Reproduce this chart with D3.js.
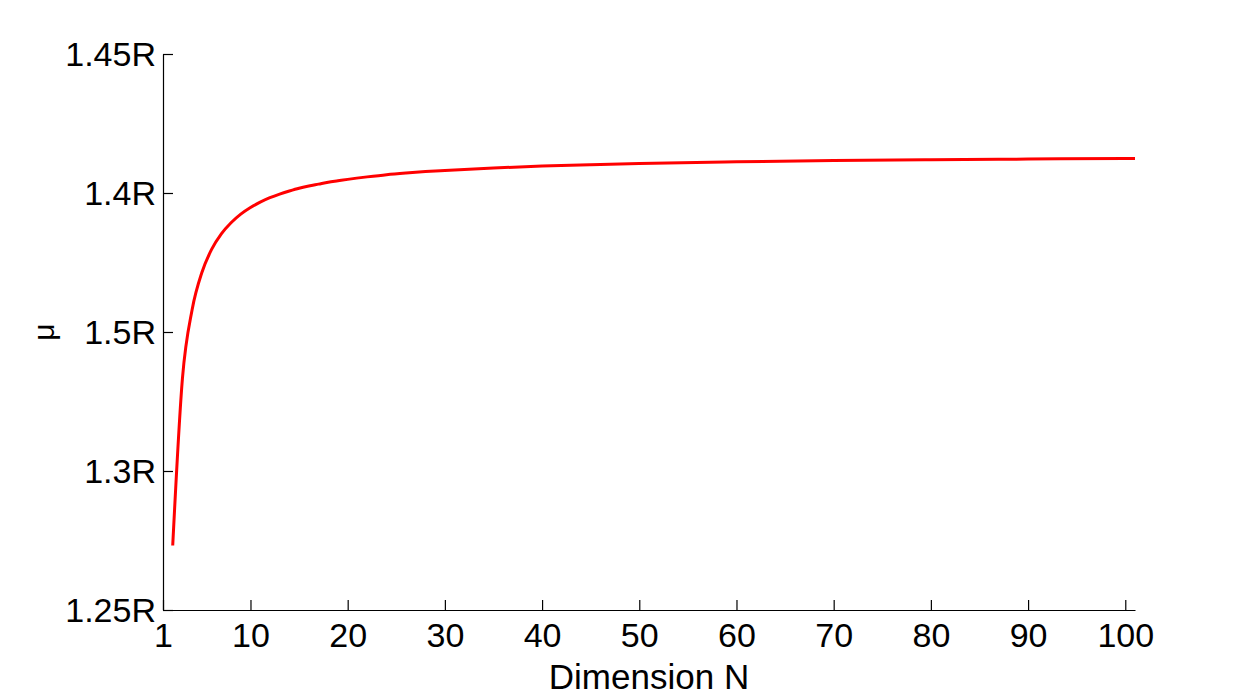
<!DOCTYPE html>
<html>
<head>
<meta charset="utf-8">
<script src="https://cdn.jsdelivr.net/npm/d3@7"></script>
<style>
  body { margin: 0; background: #fff; }
  text { font-family: "Liberation Sans", Arial, sans-serif; fill: #000; }
</style>
</head>
<body>
<div id="chart"></div>
<script>
// mean distance curve
var dims = [2, 3, 4, 5, 6, 7, 8, 9, 10, 11, 12, 13, 14, 15, 16, 17, 18, 19, 20,
	22, 24, 26, 28, 30, 35, 40, 45, 50, 60, 70, 80, 90, 100, 101]
var mu = [1.2732, 1.3333, 1.3581, 1.3714, 1.3797, 1.3853, 1.3893, 1.3924, 1.3948,
	1.3967, 1.3983, 1.3996, 1.4007, 1.4017, 1.4025, 1.4032, 1.4039, 1.4044, 1.4049,
	1.4058, 1.4066, 1.4072, 1.4077, 1.4081, 1.4090, 1.4097, 1.4102, 1.4106,
	1.4112, 1.4117, 1.4120, 1.4122, 1.4124, 1.4124]
var xTicks = [1, 10, 20, 30, 40, 50, 60, 70, 80, 90, 100]
var yTicks = [1.25, 1.3, 1.35, 1.4, 1.45]
var yTickLabels = ['1.25R', '1.3R', '1.5R', '1.4R', '1.45R']

var width = 1254, height = 700
var margin = {left: 163, right: 119, top: 54, bottom: 90}

var svg = d3.select('#chart').append('svg').attr('width', width).attr('height', height)

var x = d3.scaleLinear().domain([1, 101]).range([margin.left, width - margin.right])
var y = d3.scaleLinear().domain([1.25, 1.45]).range([height - margin.bottom, margin.top])

// axes, ticks inward
var xAxis = d3.axisBottom(x).tickValues(xTicks).tickSizeInner(-10).tickSizeOuter(0).tickPadding(14)
var yAxis = d3.axisLeft(y).tickValues(yTicks).tickSizeInner(-10).tickSizeOuter(0).tickPadding(7)
	.tickFormat(function(d, i) { return yTickLabels[i] })

var gx = svg.append('g').attr('transform', 'translate(0,' + (height - margin.bottom) + ')').call(xAxis)
var gy = svg.append('g').attr('transform', 'translate(' + margin.left + ',0)').call(yAxis)

gx.selectAll('text').attr('font-size', 34).attr('font-family', null).attr('dy', '0.68em')
gy.selectAll('text').attr('font-size', 34).attr('font-family', null).attr('dy', '0.35em')
svg.selectAll('.domain').attr('stroke', '#000').attr('stroke-width', 1.2)
svg.selectAll('.tick line').attr('stroke', '#000').attr('stroke-width', 1.2)

var line = d3.line()
	.x(function(d, i) { return x(dims[i]) })
	.y(function(d) { return y(d) })
	.curve(d3.curveMonotoneX)

svg.append('path').datum(mu)
	.attr('d', line)
	.attr('fill', 'none')
	.attr('stroke', '#ff0000')
	.attr('stroke-width', 3)

svg.append('text')
	.attr('x', x(51)).attr('y', 689)
	.attr('text-anchor', 'middle')
	.attr('font-size', 35)
	.text('Dimension N')

svg.append('text')
	.attr('transform', 'translate(54,' + y(1.35) + ') rotate(-90)')
	.attr('text-anchor', 'middle')
	.attr('font-size', 30)
	.text('μ')
</script>
</body>
</html>
